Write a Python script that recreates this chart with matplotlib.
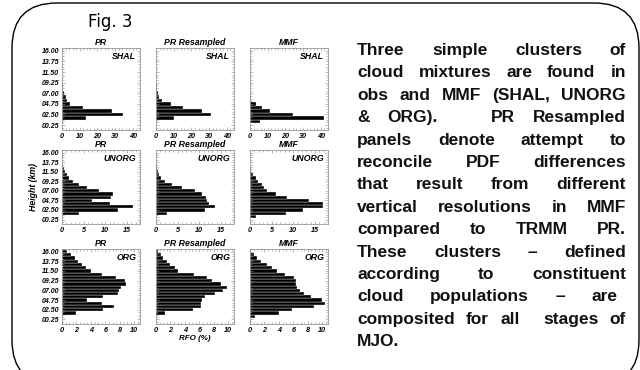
import numpy as np
import matplotlib
matplotlib.use("Agg")
import matplotlib.pyplot as plt
from matplotlib.patches import FancyBboxPatch

# height bins (km), bottom -> top
heights = [0.25, 1.0, 1.75, 2.5, 3.25, 4.0, 4.75, 5.5, 6.25, 7.0, 7.75,
           8.5, 9.25, 10.0, 10.75, 11.5, 12.25, 13.0, 13.75, 14.5, 15.25, 16.0]

# RFO (%) per height bin
pr_shal = [0, 0, 13.5, 34.5, 28.0, 12.0, 4.5, 3.0, 2.0, 1.0, 0.5, 0.3, 0.1,
           0, 0, 0, 0, 0, 0, 0, 0, 0]
prr_shal = [0, 0, 10.0, 31.0, 26.0, 15.3, 8.2, 3.2, 1.9, 1.0, 0.6, 0.3, 0.15,
            0.05, 0, 0, 0, 0, 0, 0, 0, 0]
mmf_shal = [0, 5.6, 42.0, 24.4, 11.5, 6.7, 3.4, 0.8, 0.3, 0.1, 0, 0, 0,
            0, 0, 0, 0, 0, 0, 0, 0, 0]

pr_unorg = [0, 0, 4.0, 12.9, 16.3, 11.1, 7.0, 11.2, 11.8, 8.5, 5.7, 4.0, 2.6,
            1.5, 1.1, 0.8, 0.4, 0.2, 0.1, 0.05, 0, 0]
prr_unorg = [0, 0, 2.6, 11.2, 13.5, 12.2, 11.8, 11.5, 10.6, 8.9, 6.1, 3.8, 2.1,
             1.2, 0.8, 0.5, 0.3, 0.2, 0.1, 0.1, 0.05, 0.05]
mmf_unorg = [0, 1.3, 8.3, 12.3, 16.8, 16.9, 13.6, 8.5, 6.0, 4.0, 3.2, 2.7, 1.9,
             1.3, 0.6, 0.3, 0.2, 0.1, 0.05, 0, 0, 0]

pr_org = [0, 0, 1.9, 5.7, 7.2, 5.6, 3.5, 5.7, 7.7, 7.9, 8.2, 8.8, 8.7,
          7.5, 5.5, 4.0, 3.3, 2.7, 2.2, 1.8, 1.2, 0.75]
prr_org = [0, 0, 1.3, 5.1, 6.2, 6.2, 6.4, 6.8, 8.1, 9.3, 9.8, 9.0, 7.8,
           7.1, 5.2, 3.1, 2.6, 2.0, 1.5, 1.0, 0.65, 0.3]
mmf_org = [0, 0.7, 4.0, 5.8, 8.8, 10.4, 10.0, 8.5, 7.5, 6.9, 6.5, 6.4, 6.3,
           6.1, 4.9, 3.8, 3.0, 2.3, 1.5, 1.0, 0.5, 0.2]

col_titles = ["PR", "PR Resampled", "MMF"]
clusters = ["SHAL", "UNORG", "ORG"]
panels = [[pr_shal, prr_shal, mmf_shal],
          [pr_unorg, prr_unorg, mmf_unorg],
          [pr_org, prr_org, mmf_org]]
xticks = [[0, 10, 20, 30, 40], [0, 5, 10, 15], [0, 2, 4, 6, 8, 10]]
xmax = [44, 18, 10.8]
yticks = [0.25, 2.5, 4.75, 7.0, 9.25, 11.5, 13.75, 16.0]

text_lines = [
    "Three simple clusters of",
    "cloud mixtures are found in",
    "obs and MMF (SHAL, UNORG",
    "& ORG).   PR Resampled",
    "panels denote attempt to",
    "reconcile PDF differences",
    "that result from different",
    "vertical resolutions in MMF",
    "compared to TRMM PR.",
    "These clusters \u2013 defined",
    "according to constituent",
    "cloud populations \u2013 are",
    "composited for all  stages of",
    "MJO.",
]

W, H = 640, 370
fig = plt.figure(figsize=(W / 100, H / 100), dpi=100)
fig.patch.set_facecolor("white")


def px_axes(x0, y0, x1, y1):
    return fig.add_axes([x0 / W, 1 - y1 / H, (x1 - x0) / W, (y1 - y0) / H])


col_x = [62, 156, 250]
row_y = [(48, 130), (150, 224), (249, 324)]
small = dict(family="Liberation Sans", weight="bold", style="italic")

for i in range(3):
    for j in range(3):
        ax = px_axes(col_x[j], row_y[i][0], col_x[j] + 78, row_y[i][1])
        ax.barh(heights, panels[i][j], height=0.75, color="black",
                edgecolor="white", linewidth=0.25)
        ax.set_xlim(0, xmax[i])
        ax.set_ylim(-0.8, 16.6)
        ax.set_xticks(xticks[i])
        ax.set_xticklabels([str(t) for t in xticks[i]], fontsize=5.2, **small)
        ax.set_yticks(yticks)
        if j == 0:
            ax.set_yticklabels(["%05.2f" % t for t in yticks], fontsize=5, **small)
        else:
            ax.set_yticklabels([])
        ax.minorticks_on()
        ax.tick_params(which="both", direction="in", top=True, right=True,
                       color="#888888", width=0.4, pad=2)
        ax.tick_params(which="major", length=2.5)
        ax.tick_params(which="minor", length=1.2)
        for s in ax.spines.values():
            s.set_color("#999999")
            s.set_linewidth(0.6)
        ax.set_title(col_titles[j], fontsize=6.3, pad=2, **small)
        ax.text(0.95, 0.95, clusters[i], transform=ax.transAxes, ha="right",
                va="top", fontsize=6.3, **small)
        if i == 1 and j == 0:
            ax.set_ylabel("Height (km)", fontsize=6.3, labelpad=3, **small)
        if i == 2 and j == 1:
            ax.set_xlabel("RFO (%)", fontsize=5.8, labelpad=1, **small)

fig.text(110 / W, 1 - 22 / H, "Fig. 3", ha="center", va="center",
         fontsize=12, family="DejaVu Sans")

# rounded frame
frame = FancyBboxPatch((0.12, -0.15), 6.27, 3.82,
                       boxstyle="round,pad=0,rounding_size=0.45",
                       transform=fig.dpi_scale_trans, facecolor="none",
                       edgecolor="black", linewidth=1.0, clip_on=False)
fig.add_artist(frame)

# justified paragraph, words placed one by one on a shared baseline
renderer = fig.canvas.get_renderer()
x_left, x_right = 357, 626
y0, dy = 55, 22.4
para = dict(fontsize=12.5, family="Liberation Sans", weight="bold", color="#111111")
for k, line in enumerate(text_lines):
    y = 1 - (y0 + k * dy) / H
    words = line.split(" ")
    arts = []
    widths = []
    for w in words:
        if w:
            t = fig.text(0, y, w, va="baseline", ha="left", **para)
            arts.append(t)
            widths.append(t.get_window_extent(renderer).width)
        else:
            arts.append(None)
            widths.append(0.0)
    right = x_right - 8 if "populations" in line else x_right
    if len(words) > 1 and k < len(text_lines) - 1:
        gap = (right - x_left - sum(widths)) / (len(words) - 1)
    else:
        gap = 4.0
    x = x_left
    for a, wd in zip(arts, widths):
        if a is not None:
            a.set_x(x / W)
        x += wd + gap

fig.savefig("out.png", dpi=100, facecolor="white")
